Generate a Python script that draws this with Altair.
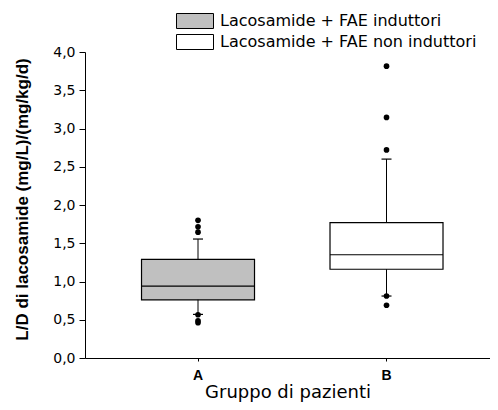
import altair as alt
import pandas as pd

groups = ["A", "B"]
labels = ["Lacosamide + FAE induttori", "Lacosamide + FAE non induttori"]
q1 = [0.76, 1.16]
median = [0.94, 1.35]
q3 = [1.29, 1.77]
whisk_lo = [0.57, 0.81]
whisk_hi = [1.555, 2.60]
outliers_A = [1.80, 1.715, 1.645, 0.565, 0.487, 0.461]
outliers_B = [3.815, 3.145, 2.72, 0.81, 0.69]
y_ticks = [0.0, 0.5, 1.0, 1.5, 2.0, 2.5, 3.0, 3.5, 4.0]

box = pd.DataFrame({"group": groups, "label": labels, "q1": q1, "med": median,
                    "q3": q3, "lo": whisk_lo, "hi": whisk_hi})
pts = pd.DataFrame({"group": ["A"] * len(outliers_A) + ["B"] * len(outliers_B),
                    "v": outliers_A + outliers_B})

xenc = alt.X("group:N", title="Gruppo di pazienti",
             scale=alt.Scale(domain=groups, paddingInner=0, paddingOuter=0.0743, align=0.67),
             axis=alt.Axis(labelAngle=0, labelFont="Liberation Sans", labelFontWeight="bold",
                           labelFontSize=14, labelColor="black", tickSize=3, labelPadding=7,
                           tickColor="black", domainColor="black",
                           titleFont="DejaVu Sans", titleFontSize=18, titleFontWeight="normal",
                           titleColor="black", titleBaseline="alphabetic", titleY=39))
yscale = alt.Scale(domain=[0, 4], nice=False, zero=True)
yaxis = alt.Axis(values=y_ticks, labelOverlap=False,
                 labelExpr="replace(format(datum.value, '.1f'), '.', ',')",
                 labelFont="DejaVu Sans", labelFontSize=14, labelColor="black",
                 tickSize=6, labelPadding=4, tickColor="black", domainColor="black",
                 grid=False, title="L/D di lacosamide (mg/L)/(mg/kg/d)",
                 titleFont="Liberation Sans", titleFontSize=17, titleFontWeight="bold",
                 titleColor="black", titleX=-58, titleY=147, titleAngle=270,
                 titleAlign="center", titleBaseline="alphabetic")


def yenc(field):
    return alt.Y(field, scale=yscale, axis=yaxis)


base = alt.Chart(box)

whisk = base.mark_rule(color="black", strokeWidth=1, opacity=1).encode(
    x=xenc, y=yenc("lo:Q"), y2="hi:Q")

bars = base.mark_bar(size=113, stroke="black", strokeWidth=1.2, opacity=1).encode(
    x=xenc, y=yenc("q1:Q"), y2="q3:Q",
    fill=alt.Fill("label:N",
                  scale=alt.Scale(domain=labels, range=["#C0C0C0", "#FFFFFF"]),
                  legend=alt.Legend(title=None, orient="none", legendX=102, legendY=-39,
                                    symbolType="M-2.4667,-1H2.4667V1H-2.4667Z",
                                    symbolSize=225,
                                    symbolStrokeColor="black", symbolStrokeWidth=1,
                                    labelFont="DejaVu Sans", labelFontSize=16,
                                    labelColor="black", labelOffset=17, labelLimit=400,
                                    rowPadding=1, padding=0, symbolOffset=0)))

med = base.mark_tick(size=113, thickness=1.2, color="black", opacity=1).encode(
    x=xenc, y=yenc("med:Q"))

cap_lo = base.mark_tick(size=10, thickness=1.2, color="black", opacity=1).encode(
    x=xenc, y=yenc("lo:Q"))
cap_hi = base.mark_tick(size=10, thickness=1.2, color="black", opacity=1).encode(
    x=xenc, y=yenc("hi:Q"))

dots = alt.Chart(pts).mark_circle(size=32, color="black", opacity=1).encode(
    x=xenc, y=yenc("v:Q"))

chart = alt.layer(whisk, bars, med, cap_lo, cap_hi, dots).properties(
    width=405, height=306, autosize="none",
    padding={"left": 77, "top": 44, "right": 0, "bottom": 44}
).configure_view(stroke=None)

chart.save("out.html", embed_options={"renderer": "svg", "actions": False})
